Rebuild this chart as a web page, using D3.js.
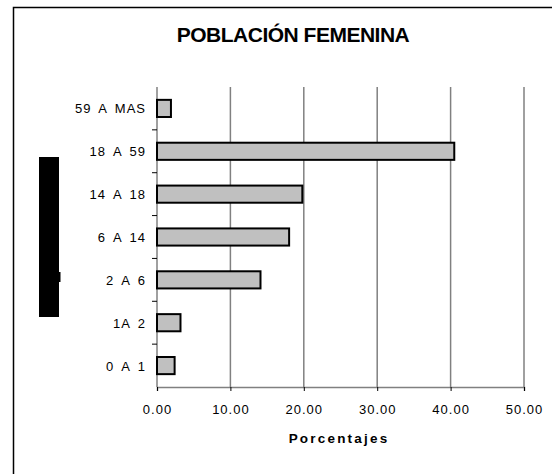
<!DOCTYPE html>
<html><head><meta charset="utf-8">
<script src="https://cdn.jsdelivr.net/npm/d3@7"></script>
<style>body{margin:0;background:#fff}svg{display:block}text{font-family:"Liberation Sans",Arial,sans-serif}</style>
</head><body><svg id="c" width="552" height="474"></svg>
<script>
const categories = ["59 A MAS","18 A 59","14 A 18","6 A 14","2 A 6","1A 2","0 A 1"];
const values = [1.9, 40.5, 19.8, 18.0, 14.1, 3.2, 2.4];
const xTicks = [0,10,20,30,40,50];
const title = "POBLACIÓN FEMENINA";
const xTitle = "Porcentajes";

const svg = d3.select("#c");
const m = {l:157, r:524, t:87, b:387};
const x = d3.scaleLinear().domain([0,50]).range([m.l, m.r]);
const y = d3.scaleBand().domain(categories).range([m.t, m.b]).paddingInner(0.6).paddingOuter(0.3);
const yb = d3.scaleBand().domain(categories).range([m.t, m.b]);

// outer frame
svg.append("path").attr("d","M13.5,474 V7.5 H552").attr("fill","none").attr("stroke","#000").attr("stroke-width",1.5);

// title
svg.append("text").attr("x",293).attr("y",42).attr("text-anchor","middle")
  .attr("font-size",21).attr("font-weight","bold").attr("letter-spacing",-0.5).text(title);

// gridlines
svg.append("g").selectAll("line").data(xTicks.slice(1)).join("line")
  .attr("x1",d=>x(d)).attr("x2",d=>x(d)).attr("y1",m.t).attr("y2",m.b)
  .attr("stroke","#808080").attr("stroke-width",1.5);

// x axis
const xa = svg.append("g").attr("transform",`translate(0,${m.b})`)
  .call(d3.axisBottom(x).tickValues(xTicks).tickFormat(d3.format(".2f")).tickSize(4).tickPadding(14));
xa.select(".domain").attr("stroke","#808080").attr("stroke-width",1.5);
xa.selectAll(".tick line").attr("stroke","#000");
xa.selectAll(".tick text").attr("font-size",13).attr("letter-spacing",1).attr("fill","#000")
  .attr("font-family","Liberation Sans, Arial, sans-serif");

// y axis
const ya = svg.append("g").attr("transform",`translate(${m.l},0)`);
ya.append("line").attr("x1",0).attr("x2",0).attr("y1",m.t).attr("y2",m.b).attr("stroke","#808080").attr("stroke-width",1.5);
ya.selectAll("line.t").data(categories.slice(1)).join("line").attr("class","t")
  .attr("x1",-5).attr("x2",0).attr("y1",d=>yb(d)).attr("y2",d=>yb(d)).attr("stroke","#000");
ya.selectAll("text").data(categories).join("text")
  .attr("x",-11).attr("y",d=>yb(d)+yb.bandwidth()/2+5).attr("text-anchor","end")
  .attr("font-size",13).attr("letter-spacing",1).attr("word-spacing",3).text(d=>d);

// bars
svg.append("g").selectAll("rect").data(values).join("rect")
  .attr("x",x(0)).attr("y",(d,i)=>y(categories[i]))
  .attr("width",d=>x(d)-x(0)).attr("height",y.bandwidth())
  .attr("fill","#c0c0c0").attr("stroke","#000").attr("stroke-width",2);

// x title
svg.append("text").attr("x",339).attr("y",443).attr("text-anchor","middle")
  .attr("font-size",13.5).attr("font-weight","bold").attr("letter-spacing",2.2).text(xTitle);

// y-axis title block (obscured in the original)
svg.append("rect").attr("x",39).attr("y",157).attr("width",20).attr("height",160).attr("fill","#000");
svg.append("rect").attr("x",59).attr("y",272).attr("width",1.5).attr("height",10).attr("fill","#000");
</script></body></html>
